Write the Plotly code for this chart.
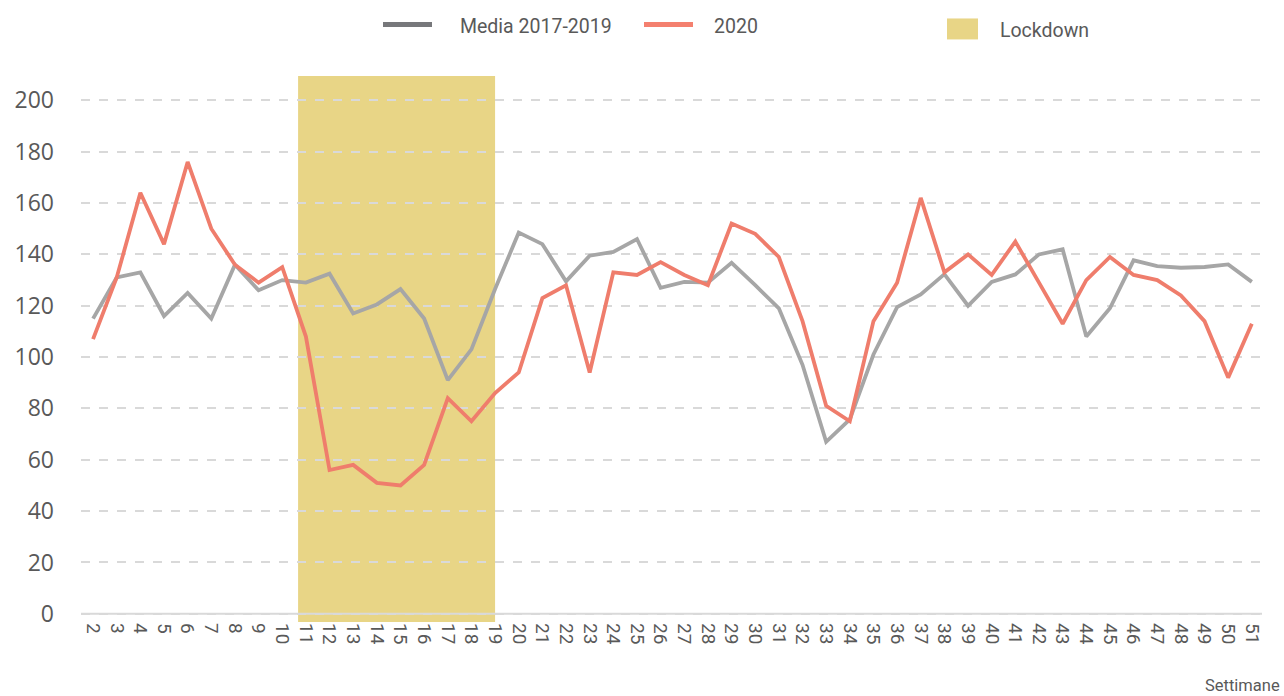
import plotly.graph_objects as go

weeks = list(range(2, 52))
week_labels = [str(w) for w in weeks]

media_2017_2019 = [115, 131, 133, 116, 125, 115, 136, 126, 130, 129,
                   132.5, 117, 120.5, 126.5, 115, 91, 103, 126.5, 148.5, 144,
                   129.5, 139.5, 141, 146, 127, 129.3, 129, 136.7, 128, 119,
                   97, 67, 75.7, 101, 119.5, 124.4, 132.3, 120, 129.3, 132.2,
                   140, 142, 108, 119, 137.7, 135.4, 134.8, 135.1, 136.1, 129.3]

values_2020 = [107, 131, 164, 144, 176, 150, 136, 129, 135, 108,
               56, 58, 51, 50, 58, 84, 75, 86, 94, 123,
               128, 94, 133, 132, 137, 132, 128, 152, 148, 139,
               114, 81, 75, 114, 129, 162, 133, 140, 132, 145,
               129, 113, 130, 139, 132, 130, 124, 114, 92, 113]

lockdown_start = 10.67
lockdown_end = 19.0

y_ticks = list(range(0, 201, 20))

GRAY = "#A6A6A6"
RED = "#EF7D6C"
YELLOW = "#E8D586"
TXT = "#595959"
FONT = "Roboto"

fig = go.Figure()

fig.add_trace(go.Scatter(x=weeks, y=media_2017_2019, mode="lines",
                         line=dict(color=GRAY, width=3.8),
                         name="Media 2017-2019", showlegend=False))
fig.add_trace(go.Scatter(x=weeks, y=values_2020, mode="lines",
                         line=dict(color=RED, width=3.8),
                         name="2020", showlegend=False))

# Lockdown band
fig.add_shape(type="rect", xref="x", yref="y domain",
              x0=lockdown_start, x1=lockdown_end, y0=0, y1=1,
              fillcolor=YELLOW, line=dict(width=0), layer="below")

W, H = 1284, 696
ml, mr, mt, mb = 81, 22, 75.6, 73.8
pw, ph = W - ml - mr, H - mt - mb

def px_to_paper_x(px):
    return (px - ml) / pw

def px_to_paper_y(py):
    return (H - mb - py) / ph

legend_items = [
    dict(kind="line", color="#77787B", x0=383, x1=432, y=24, text="Media 2017-2019", tx=458, ty=26),
    dict(kind="line", color="#F4806F", x0=644, x1=693, y=24, text="2020", tx=712, ty=26),
    dict(kind="rect", color=YELLOW, x0=947, x1=978, y=29, text="Lockdown", tx=998, ty=30),
]

for it in legend_items:
    if it["kind"] == "line":
        fig.add_shape(type="line", xref="paper", yref="paper",
                      x0=px_to_paper_x(it["x0"]), x1=px_to_paper_x(it["x1"]),
                      y0=px_to_paper_y(it["y"]), y1=px_to_paper_y(it["y"]),
                      line=dict(color=it["color"], width=5))
    else:
        fig.add_shape(type="rect", xref="paper", yref="paper",
                      x0=px_to_paper_x(it["x0"]), x1=px_to_paper_x(it["x1"]),
                      y0=px_to_paper_y(39), y1=px_to_paper_y(18),
                      fillcolor=it["color"], line=dict(width=0))
    fig.add_annotation(xref="paper", yref="paper", x=px_to_paper_x(it["tx"]),
                       y=px_to_paper_y(it["ty"]), text=it["text"], showarrow=False,
                       xanchor="left", yanchor="middle",
                       font=dict(family=FONT, size=19.5, color=TXT))

fig.add_annotation(xref="paper", yref="paper", x=px_to_paper_x(1282),
                   y=px_to_paper_y(686), text="Settimane", showarrow=False,
                   xanchor="right", yanchor="middle",
                   font=dict(family=FONT, size=16.5, color=TXT))

fig.update_layout(
    width=W, height=H,
    margin=dict(l=ml, r=mr, t=mt, b=mb, pad=0),
    plot_bgcolor="white", paper_bgcolor="white",
    showlegend=False,
    xaxis=dict(range=[1.49, 51.43], tickmode="array", tickvals=weeks, ticktext=week_labels,
               tickangle=90, showgrid=False, zeroline=False, showline=False,
               ticks="", tickfont=dict(family=FONT, size=19, color=TXT)),
    yaxis=dict(range=[-3.2, 209.5], tickmode="array", tickvals=y_ticks,
               showgrid=True, gridcolor="#D9D9D9", griddash="dash", gridwidth=2,
               zeroline=False, showline=False, ticks="",
               ticklabelstandoff=26,
               tickfont=dict(family="Open Sans", size=23, color=TXT)),
)

# Zero baseline
fig.add_shape(type="line", xref="paper", yref="y", x0=0, x1=1, y0=0, y1=0,
              line=dict(color="#D9D9D9", width=2), layer="between")

fig.write_html("out.html", config={"displayModeBar": False},
               post_script="document.body.style.margin='0';document.body.style.padding='0';")
